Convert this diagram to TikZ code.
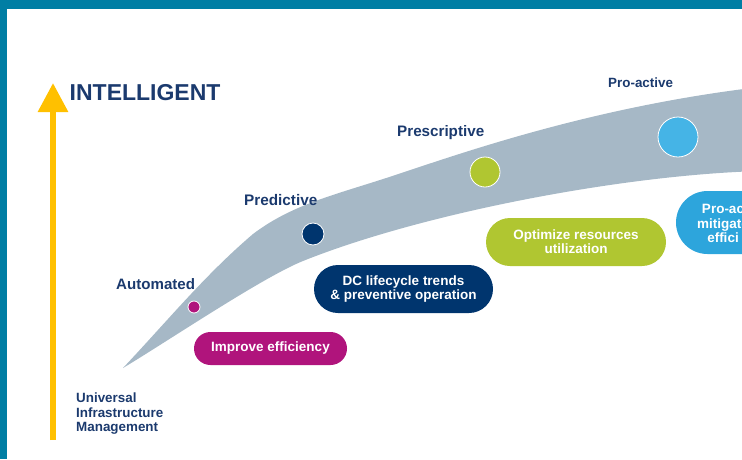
\documentclass[tikz,border=0pt]{standalone}
\usepackage{fontspec}
\setmainfont{Liberation Sans}
\usetikzlibrary{arrows.meta}
\definecolor{uimteal}{RGB}{0,126,164}
\definecolor{uimnavytext}{RGB}{27,58,110}
\definecolor{uimnavy}{RGB}{0,53,110}
\definecolor{uimplum}{RGB}{176,20,124}
\definecolor{uimgreen}{RGB}{176,198,49}
\definecolor{uimsky}{RGB}{69,180,230}
\definecolor{uimskypill}{RGB}{45,165,220}
\definecolor{uimband}{RGB}{166,184,198}
\definecolor{uimamber}{RGB}{255,192,0}

\begin{document}
\begin{tikzpicture}[x=1pt, y=-1pt, >={Triangle[length=29pt, width=29pt]},
    stage/.style={anchor=base west, inner sep=0, text=uimnavytext},
    pill/.style={rectangle, inner sep=0, text=white, align=center, font=\bfseries\fontsize{13.5}{14.2}\selectfont},
    dot/.style={circle, draw=white, line width=0.8pt, inner sep=0}]
            \useasboundingbox (0,0) rectangle (742,459);
            \clip (0,0) rectangle (742,459);
            \fill[uimteal] (0,0) rectangle (742,9);
            \fill[uimteal] (0,0) rectangle (7,459);
            \draw[->, uimamber, line width=6pt] (53,440) -- (53,83);
            \node[stage, font=\bfseries\fontsize{23}{26}\selectfont] (lblTop) at (69.5,100) {INTELLIGENT};
            \node[stage, anchor=north west, align=left, font=\bfseries\fontsize{13.4}{14.5}\selectfont] (lblBase) at (76,393) {Universal\\Infrastructure\\Management};
            \fill[uimband] (123,368) .. controls (170,318) and (205,275) .. (253,234) .. controls (290,206) and (330,196) .. (380,180)
                .. controls (440,161) and (580,108) .. (760,87) -- (760,171)
                .. controls (620,175) and (420,214) .. (303,261) .. controls (263,277) and (168,341) .. (123,368) -- cycle;
            \node[dot, fill=uimplum, minimum size=12pt] (dotAuto) at (194,307) {};
            \node[dot, fill=uimnavy, minimum size=22pt] (dotPred) at (313,234) {};
            \node[dot, fill=uimgreen, minimum size=30pt] (dotPresc) at (485,172) {};
            \node[dot, fill=uimsky, minimum size=40pt] (dotPro) at (678,137) {};
            \node[stage, font=\bfseries\fontsize{15.1}{17}\selectfont] (lblAuto) at (116,289) {Automated};
            \node[stage, font=\bfseries\fontsize{15.3}{17}\selectfont] (lblPred) at (244,205) {Predictive};
            \node[stage, font=\bfseries\fontsize{15.2}{17}\selectfont] (lblPresc) at (397,136) {Prescriptive};
            \node[stage, font=\bfseries\fontsize{13.4}{15}\selectfont] (lblPro) at (608,87) {Pro-active};
            \node[pill, fill=uimplum, minimum width=153pt, minimum height=33pt, rounded corners=16.5pt] (pillAuto) at (270.5,348.5) {Improve efficiency};
            \node[pill, fill=uimnavy, minimum width=179pt, minimum height=48pt, rounded corners=24pt] (pillPred) at (403.5,289) {DC lifecycle trends\\\& preventive operation};
            \node[pill, fill=uimgreen, minimum width=180pt, minimum height=48pt, rounded corners=24pt] (pillPresc) at (576,242) {Optimize resources\\utilization};
            \node[pill, fill=uimskypill, minimum width=180pt, minimum height=63pt, rounded corners=31.5pt] (pillPro) at (766,222.5) {};
            \node[pill] (txtPro) at (723,223.6) {Pro-ac\\mitigate\\effici};
\end{tikzpicture}
\end{document}
